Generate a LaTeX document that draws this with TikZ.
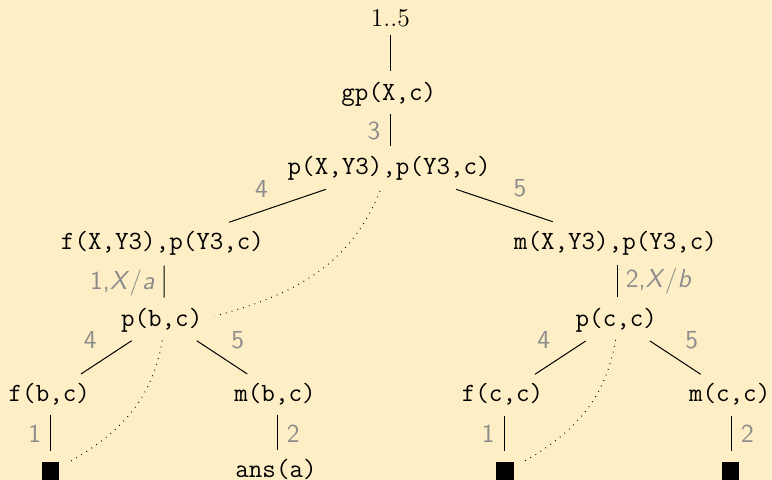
\documentclass[tikz,border=0pt]{standalone}
\usetikzlibrary{calc}
\definecolor{bgcol}{RGB}{254,238,198}
\definecolor{lblcol}{RGB}{140,140,140}
\begin{document}
\begin{tikzpicture}[x=0.5pt,y=-0.5pt,
  term/.style={anchor=base,inner sep=0pt,font=\fontsize{13.14pt}{15pt}\selectfont\ttfamily},
  topterm/.style={anchor=base,inner sep=0pt,font=\fontsize{12.8pt}{15pt}\selectfont\rmfamily},
  lbl/.style={inner sep=0pt,text=lblcol,font=\fontsize{13pt}{15pt}\selectfont\sffamily},
  leaf/.style={fill=black,inner sep=0pt,minimum width=8.8pt,minimum height=12pt},
  edge/.style={line width=0.5pt},
  trace/.style={line width=0.5pt,dash pattern=on 0.4pt off 2.6pt}]
\fill[bgcol] (0,0) rectangle (772,480);
\useasboundingbox (0,0) rectangle (772,480);
% terms
\node[topterm] (top) at (390.3,26.5) {1..5};
\node[term] (gp)  at (388.8,100.7) {gp(X,c)};
\node[term] (pxy) at (389.2,175) {p(X,Y3),p(Y3,c)};
\node[term] (fxy) at (162.5,250) {f(X,Y3),p(Y3,c)};
\node[term] (mxy) at (615.5,250) {m(X,Y3),p(Y3,c)};
\node[term] (pbc) at (161.7,326.7) {p(b,c)};
\node[term] (pcc) at (616.3,326.7) {p(c,c)};
\node[term] (fbc) at (49.3,401.7) {f(b,c)};
\node[term] (mbc) at (275,401.7) {m(b,c)};
\node[term] (fcc) at (502.5,401.7) {f(c,c)};
\node[term] (mcc) at (729.7,401.7) {m(c,c)};
\node[term] (ans) at (276,478) {ans(a)};
\node[leaf] (sq1) at (50.5,473.7) {};
\node[leaf] (sq2) at (504.7,473.7) {};
\node[leaf] (sq3) at (730.5,473.7) {};
% edges
\draw[edge] ($(top.base)+(0.4,8.5)$) -- ($(gp.base)+(1.9,-30)$);
\draw[edge] ($(gp.base)+(1.9,13.3)$) -- ($(pxy.base)+(1.5,-29)$);
\draw[edge] ($(pxy.base)+(-63.2,14.3)$) -- ($(fxy.base)+(66.5,-27.7)$);
\draw[edge] ($(pxy.base)+(66.8,14.3)$) -- ($(mxy.base)+(-62.8,-28.3)$);
\draw[edge] ($(fxy.base)+(1.5,15.7)$) -- ($(pbc.base)+(2.3,-29)$);
\draw[edge] ($(mxy.base)+(2.2,15)$) -- ($(pcc.base)+(1.4,-29.4)$);
\draw[edge] ($(pbc.base)+(-30,14)$) -- ($(fbc.base)+(31.7,-27.7)$);
\draw[edge] ($(pbc.base)+(35,14)$) -- ($(mbc.base)+(-27.7,-27.7)$);
\draw[edge] ($(pcc.base)+(-30.6,14.3)$) -- ($(fcc.base)+(32.5,-27.4)$);
\draw[edge] ($(pcc.base)+(33.7,14.3)$) -- ($(mcc.base)+(-29,-27.4)$);
\draw[edge] ($(fbc.base)+(1.4,13.3)$) -- ($(sq1.north)+(0.2,-10)$);
\draw[edge] ($(mbc.base)+(2.7,13.3)$) -- ($(ans.base)+(1.7,-28)$);
\draw[edge] ($(fcc.base)+(1.8,14)$) -- ($(sq2.north)+(-0.4,-10)$);
\draw[edge] ($(mcc.base)+(2,14)$) -- ($(sq3.north)+(1.2,-10)$);
% labels
\node[lbl] (l3) at (374,130.5) {3};
\node[lbl] (l4a) at (261.4,188.7) {4};
\node[lbl] (l5a) at (520,188.7) {5};
\node[lbl,anchor=base east] (lxa) at (155,290) {1,\textit{X}/\textit{a}};
\node[lbl,anchor=base west] (lxb) at (625.5,288) {2,\textit{X}/\textit{b}};
\node[lbl] (l4b) at (90.3,340) {4};
\node[lbl] (l5b) at (237.7,340) {5};
\node[lbl] (l4c) at (543.7,340) {4};
\node[lbl] (l5c) at (691.7,340) {5};
\node[lbl] (l1a) at (34.7,433.8) {1};
\node[lbl] (l2a) at (293.3,433.8) {2};
\node[lbl] (l1b) at (488.3,434) {1};
\node[lbl] (l2b) at (747.5,434) {2};
% dotted traces
\draw[trace] ($(pxy.base)+(-9.2,16)$) to[out=-112,in=15] ($(pbc.base)+(53.3,-10.7)$);
\draw[trace] ($(pbc.base)+(0.6,14)$) to[out=-100,in=30] ($(sq1.north east)+(10.7,0)$);
\draw[trace] ($(pcc.base)+(-0.6,13.3)$) to[out=-100,in=30] ($(sq2.north east)+(10.5,0)$);
\end{tikzpicture}
\end{document}
